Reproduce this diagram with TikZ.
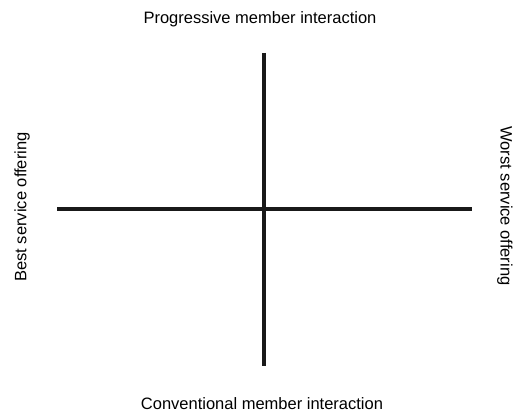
\documentclass[tikz,border=0pt]{standalone}
\usepackage{fontspec}
\setmainfont{Liberation Sans}
\begin{document}
\begin{tikzpicture}[
                x=1pt, y=-1pt,
                axis/.style={line width=3.5pt, black!90},
                every node/.style={font=\fontsize{16.5}{20}\selectfont, inner sep=0pt}
            ]
            \useasboundingbox (0,0) rectangle (515,414);

            % axes
            \coordinate (left) at (57,209);
            \coordinate (right) at (472,209);
            \coordinate (top) at (264,53);
            \coordinate (bottom) at (264,366);
            \draw[axis] (left) -- (right);
            \draw[axis] (top) -- (bottom);

            % labels
            \node (progressive) at (260,19) {Progressive member interaction};
            \node (conventional) at (262,404) {Conventional member interaction};
            \node[rotate=90] (best) at (22,207) {Best service offering};
            \node[rotate=-90] (worst) at (505,206) {Worst service offering};

        \end{tikzpicture}
\end{document}
